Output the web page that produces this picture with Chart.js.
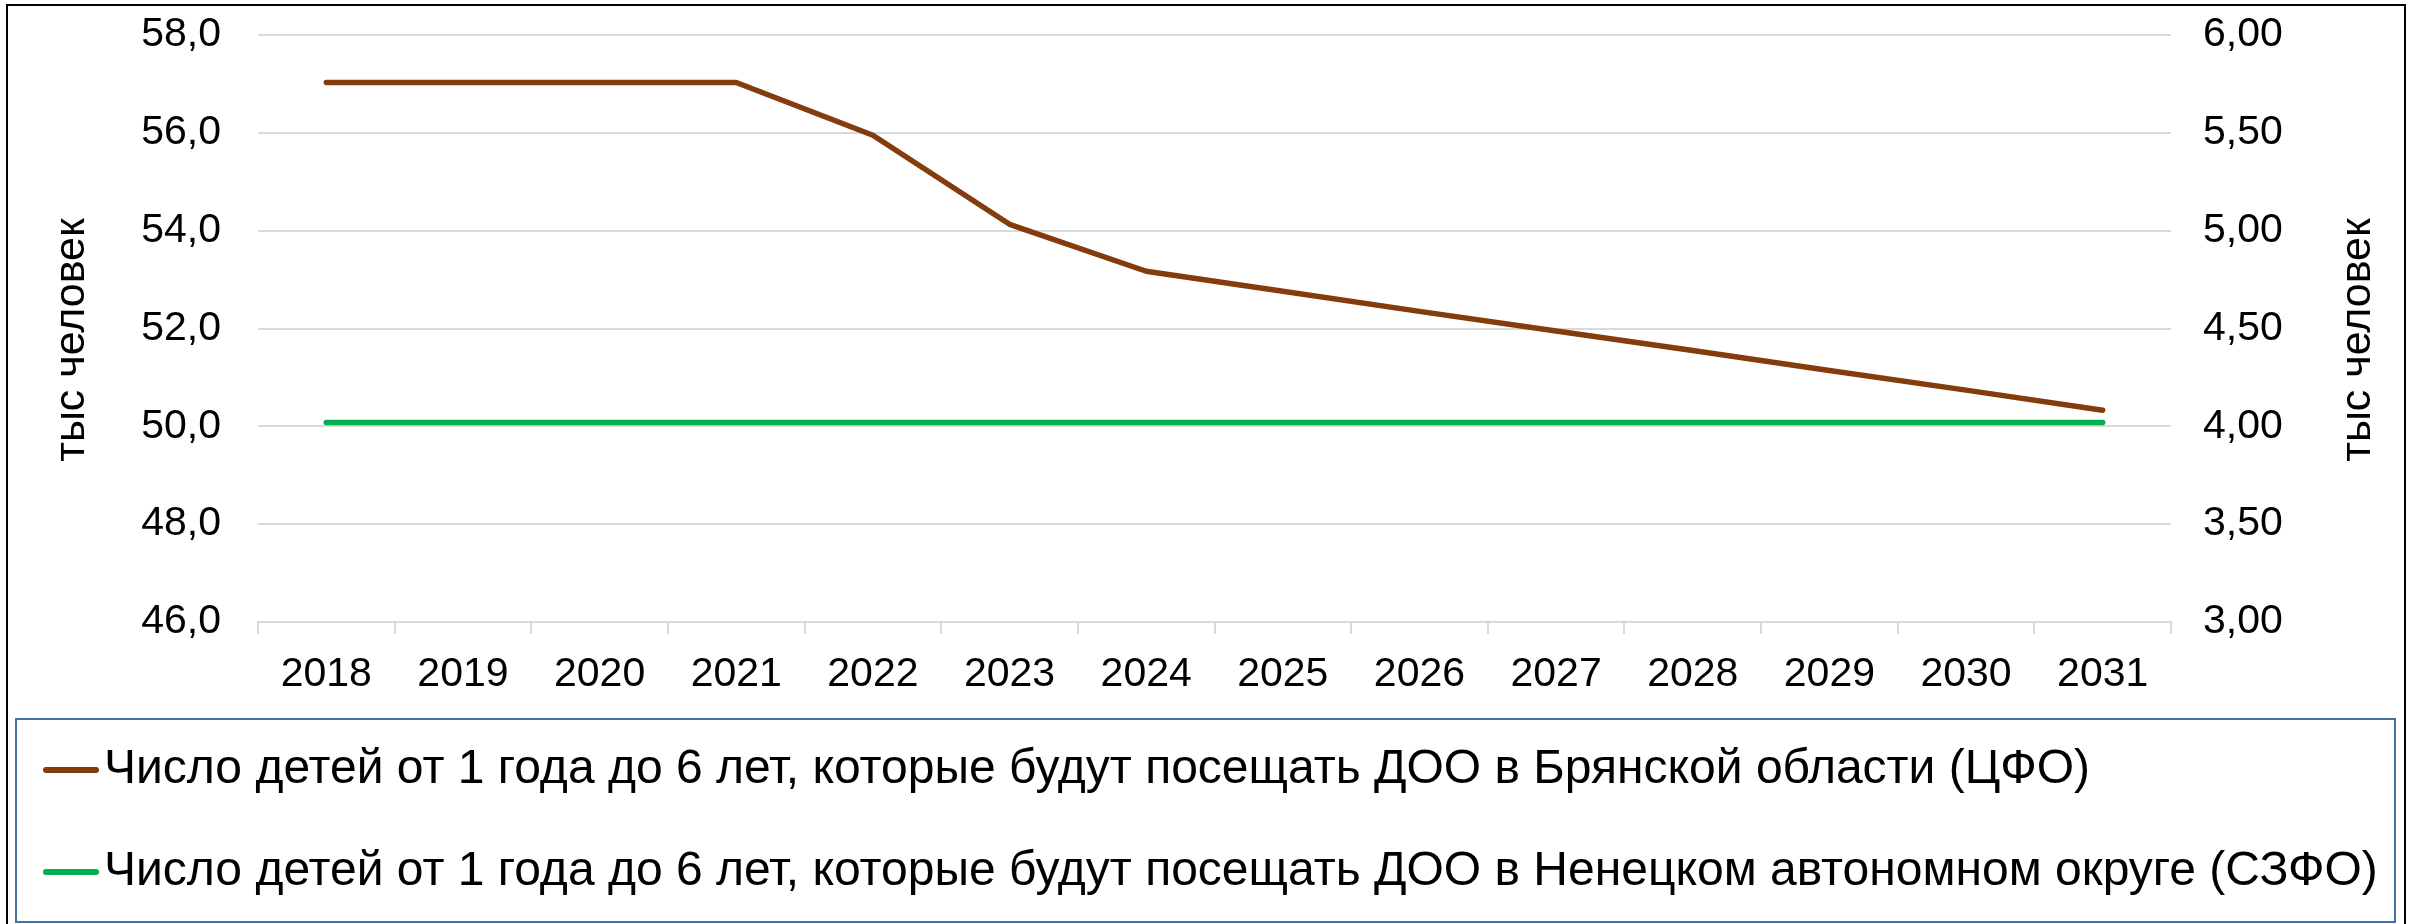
<!DOCTYPE html>
<html><head><meta charset="utf-8">
<script src="https://cdn.jsdelivr.net/npm/chart.js@4/dist/chart.umd.min.js"></script>
<style>html,body{margin:0;padding:0;background:#fff;overflow:hidden}canvas{display:block}</style>
</head><body>
<canvas id="c" width="2418" height="924"></canvas>
<script>
// ---- data ----
const years = ['2018','2019','2020','2021','2022','2023','2024','2025','2026','2027','2028','2029','2030','2031'];
const bryanskValues = [57.03, 57.03, 57.03, 57.03, 55.95, 54.13, 53.17, 52.76, 52.35, 51.95, 51.55, 51.14, 50.74, 50.33];
const nenetsValues  = [4.02, 4.02, 4.02, 4.02, 4.02, 4.02, 4.02, 4.02, 4.02, 4.02, 4.02, 4.02, 4.02, 4.02];
const seriesLabels = [
  'Число детей от 1 года до 6 лет, которые будут посещать ДОО в Брянской области (ЦФО)',
  'Число детей от 1 года до 6 лет, которые будут посещать ДОО в Ненецком автономном округе (СЗФО)'
];
const leftTicks  = [46, 48, 50, 52, 54, 56, 58];
const rightTicks = [3.00, 3.50, 4.00, 4.50, 5.00, 5.50, 6.00];
const axisTitle = 'тыс человек';

const FONT = '"Liberation Sans", Arial, sans-serif';
const BROWN = '#843C0C', GREEN = '#00B050', GRID = '#D9D9D9', NONE = 'rgba(0,0,0,0)';

function lineMarker(color){
  const c = document.createElement('canvas'); c.width = 56; c.height = 8;
  const g = c.getContext('2d'); g.strokeStyle = color; g.lineWidth = 6; g.lineCap = 'round';
  g.beginPath(); g.moveTo(3,4); g.lineTo(53,4); g.stroke(); return c;
}
const markers = [lineMarker(BROWN), lineMarker(GREEN)];

const decor = {
  id: 'decor',
  afterDraw(chart){
    const ctx = chart.ctx; ctx.save();
    ctx.font = '43px ' + FONT; ctx.fillStyle = '#000'; ctx.textAlign = 'center'; ctx.textBaseline = 'middle';
    [[72,340],[2358,340]].forEach(([x,y])=>{ ctx.save(); ctx.translate(x,y); ctx.rotate(-Math.PI/2); ctx.fillText(axisTitle,0,0); ctx.restore(); });
    ctx.lineWidth = 2; ctx.strokeStyle = '#000'; ctx.strokeRect(7,5,2398,940);
    ctx.strokeStyle = '#41719C'; ctx.strokeRect(16,719,2379,203);
    ctx.restore();
  }
};

const fmt = (d) => (v) => Number(v).toFixed(d).replace('.', ',');

new Chart(document.getElementById('c'), {
  type: 'line',
  data: {
    labels: years,
    datasets: [
      { label: seriesLabels[0], data: bryanskValues, yAxisID: 'y', borderColor: BROWN, backgroundColor: BROWN, borderWidth: 5.5, pointRadius: 0, borderCapStyle: 'round', borderJoinStyle: 'round', tension: 0 },
      { label: seriesLabels[1], data: nenetsValues, yAxisID: 'y2', borderColor: GREEN, backgroundColor: GREEN, borderWidth: 5.5, pointRadius: 0, borderCapStyle: 'round', borderJoinStyle: 'round', tension: 0 }
    ]
  },
  options: {
    responsive: false, animation: false, devicePixelRatio: 1,
    layout: { padding: { left: 8, right: 10, top: 35, bottom: 18 } },
    plugins: {
      tooltip: { enabled: false },
      legend: {
        position: 'bottom', align: 'start',
        labels: {
          usePointStyle: true, pointStyleWidth: 18, padding: 54, color: '#000',
          font: { size: 48, family: FONT },
          generateLabels(chart){
            return chart.data.datasets.map((ds,i)=>({ text: ds.label, pointStyle: markers[i], fillStyle: ds.borderColor, strokeStyle: ds.borderColor, lineWidth: 0, hidden: false, datasetIndex: i, fontColor: '#000' }));
          }
        }
      }
    },
    scales: {
      x: {
        type: 'category', offset: true,
        grid: { offset: true, drawOnChartArea: false, drawTicks: true, tickLength: 12, color: GRID, lineWidth: 2 },
        border: { display: true, color: GRID, width: 2 },
        ticks: { color: '#000', font: { size: 41, family: FONT }, padding: 16, maxRotation: 0, autoSkip: false },
        afterFit(s){ s.height = 70; }
      },
      y: {
        position: 'left', min: leftTicks[0], max: leftTicks[leftTicks.length-1],
        afterBuildTicks(s){ s.ticks = leftTicks.map(v=>({value:v})); },
        ticks: { color: '#000', font: { size: 41, family: FONT }, padding: 0, callback: fmt(1) },
        grid: { color: GRID, lineWidth: 2, drawTicks: true, tickLength: 37, tickColor: NONE },
        border: { display: false },
        afterFit(s){ s.width = 250; }
      },
      y2: {
        position: 'right', min: rightTicks[0], max: rightTicks[rightTicks.length-1],
        afterBuildTicks(s){ s.ticks = rightTicks.map(v=>({value:v})); },
        ticks: { color: '#000', font: { size: 41, family: FONT }, padding: 0, callback: fmt(2) },
        grid: { display: true, drawOnChartArea: false, color: NONE, tickColor: NONE, drawTicks: true, tickLength: 32 },
        border: { display: false },
        afterFit(s){ s.width = 237; }
      }
    }
  },
  plugins: [decor]
});
</script>
</body></html>
